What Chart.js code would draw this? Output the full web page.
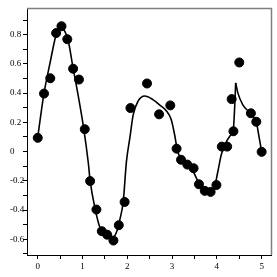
<!DOCTYPE html>
<html>
<head>
<meta charset="utf-8">
<script src="https://cdn.jsdelivr.net/npm/chart.js@4.4.1/dist/chart.umd.min.js"></script>
<style>
  html, body { margin: 0; padding: 0; background: #ffffff; }
  #wrap { width: 277px; height: 277px; }
</style>
</head>
<body>
<div id="wrap"><canvas id="plot"></canvas></div>
<script>
/* --------------- Data points (dots) --------------------- */
const pointX = [0.0, 0.14, 0.28, 0.41, 0.53, 0.66, 0.79, 0.92, 1.05, 1.17, 1.31, 1.43,
  1.55, 1.69, 1.81, 1.94, 2.07, 2.44, 2.71, 2.96, 3.10, 3.20, 3.34, 3.48,
  3.60, 3.73, 3.86, 3.99, 4.11, 4.23, 4.33, 4.37, 4.50, 4.76, 4.88, 5.00];
const pointY = [0.094, 0.397, 0.502, 0.811, 0.858, 0.769, 0.567, 0.493, 0.153, -0.202, -0.397, -0.545,
  -0.569, -0.609, -0.504, -0.345, 0.298, 0.466, 0.255, 0.316, 0.02, -0.056, -0.089, -0.114,
  -0.224, -0.269, -0.276, -0.229, 0.034, 0.034, 0.359, 0.139, 0.61, 0.262, 0.204, -0.002];

/* --------------- Fitted curve (two pieces, cusp near 4.42) ------------------------------------------- */
const curveLeftX = [0, 0.14, 0.27, 0.41, 0.5, 0.61, 0.68, 0.79, 0.87, 1.02, 1.13, 1.17, 1.28, 1.39,
  1.57, 1.68, 1.76, 1.83, 1.91, 1.98, 2.06, 2.13, 2.24, 2.39, 2.57, 2.72, 2.87, 2.98,
  3.06, 3.11, 3.17, 3.30, 3.43, 3.58, 3.73, 3.84, 3.95, 4.02, 4.10, 4.20, 4.30, 4.37, 4.40, 4.42];
const curveLeftY = [0.10, 0.40, 0.60, 0.80, 0.86, 0.82, 0.76, 0.57, 0.44, 0.17, -0.08, -0.2, -0.39, -0.52,
  -0.57, -0.585, -0.55, -0.47, -0.34, -0.07, 0.10, 0.25, 0.345, 0.38, 0.356, 0.32, 0.28, 0.22,
  0.11, 0.02, -0.036, -0.08, -0.114, -0.204, -0.27, -0.28, -0.24, -0.14, -0.02, 0.06, 0.11, 0.16, 0.32, 0.47];
const curveRightX = [4.42, 4.47, 4.58, 4.73, 4.88, 4.95, 5.0];
const curveRightY = [0.47, 0.40, 0.32, 0.267, 0.2, 0.087, 0.0];

/* --------------- Ticks --------------------- */
const xTickValues = [0, 0.5, 1, 1.5, 2, 2.5, 3, 3.5, 4, 4.5, 5];
const xTickLabels = ["0", "", "1", "", "2", "", "3", "", "4", "", "5"];
const yTickValues = [-0.7, -0.6, -0.5, -0.4, -0.3, -0.2, -0.1, 0, 0.1, 0.2, 0.3, 0.4, 0.5, 0.6, 0.7, 0.8, 0.9];
const yTickLabels = ["", "-0.6", "", "-0.4", "", "-0.2", "", "0", "", "0.2", "", "0.4", "", "0.6", "", "0.8", ""];

const toXY = (xs, ys) => xs.map((x, i) => ({ x: x, y: ys[i] }));
const tickFont = { family: "'Liberation Serif', 'DejaVu Serif', serif", size: 9 };

/* --------------- Gray frame on top and right --------------------- */
const framePlugin = {
  id: "frame",
  afterDraw(chart) {
    const a = chart.chartArea;
    const ctx = chart.ctx;
    ctx.save();
    ctx.strokeStyle = "#808080";
    ctx.lineWidth = 1.5;
    ctx.beginPath();
    ctx.moveTo(a.left, a.top);
    ctx.lineTo(a.right, a.top);
    ctx.lineTo(a.right, a.bottom);
    ctx.stroke();
    ctx.restore();
  },
};

new Chart(document.getElementById("plot"), {
  type: "scatter",
  plugins: [framePlugin],
  data: {
    datasets: [
      {
        data: toXY(pointX, pointY),
        backgroundColor: "#000000",
        borderColor: "#000000",
        pointRadius: 4.5,
        pointHoverRadius: 4.5,
      },
      {
        data: toXY(curveLeftX, curveLeftY),
        showLine: true,
        borderColor: "#000000",
        borderWidth: 1.6,
        pointRadius: 0,
        cubicInterpolationMode: "monotone",
      },
      {
        data: toXY(curveRightX, curveRightY),
        showLine: true,
        borderColor: "#000000",
        borderWidth: 1.6,
        pointRadius: 0,
        cubicInterpolationMode: "monotone",
      },
    ],
  },
  options: {
    responsive: true,
    maintainAspectRatio: false,
    animation: false,
    layout: { padding: { left: 10, top: 4, right: 5, bottom: 0 } },
    plugins: { legend: { display: false }, tooltip: { enabled: false } },
    scales: {
      x: {
        type: "linear",
        min: -0.24,
        max: 5.22,
        afterBuildTicks: (scale) => { scale.ticks = xTickValues.map((v) => ({ value: v })); },
        afterFit: (scale) => { scale.height = 22; },
        ticks: {
          autoSkip: false,
          maxRotation: 0,
          color: "#000000",
          font: tickFont,
          padding: 2,
          callback: (v, i) => xTickLabels[i],
        },
        grid: { drawOnChartArea: false, tickLength: 4, tickColor: "#000000" },
        border: { color: "#000000", width: 1 },
      },
      y: {
        type: "linear",
        min: -0.708,
        max: 0.98,
        afterBuildTicks: (scale) => { scale.ticks = yTickValues.map((v) => ({ value: v })); },
        afterFit: (scale) => { scale.width = 17; },
        ticks: {
          autoSkip: false,
          crossAlign: "far",
          color: "#000000",
          font: tickFont,
          callback: (v, i) => yTickLabels[i],
        },
        grid: { drawOnChartArea: false, tickLength: 4, tickColor: "#000000" },
        border: { color: "#000000", width: 1 },
      },
    },
  },
});
</script>
</body>
</html>
